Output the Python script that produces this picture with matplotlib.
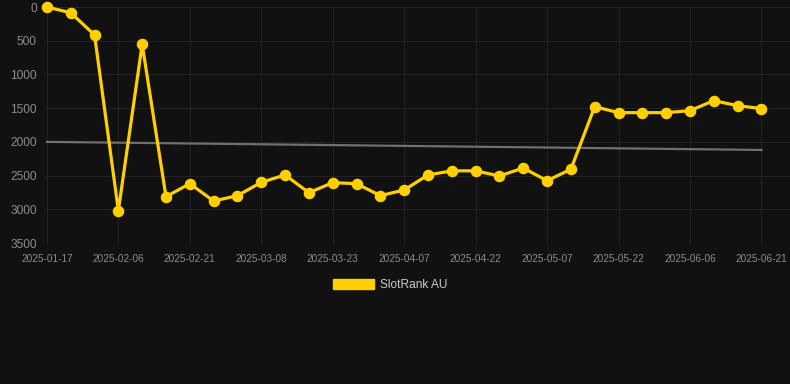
import numpy as np
import matplotlib
matplotlib.use("Agg")
import matplotlib.pyplot as plt
from matplotlib.patches import Patch

plt.rcParams['font.family'] = ['Liberation Sans', 'DejaVu Sans']

# rank values, one per point (category x axis)
ranks = [1, 85, 415, 3020, 553, 2813, 2620, 2877, 2798, 2600, 2491, 2754, 2605, 2620,
         2798, 2714, 2491, 2430, 2430, 2506, 2388, 2576, 2407, 1478, 1567, 1567, 1567,
         1537, 1389, 1463, 1507]
trend_ends = [2000, 2120]
# a label under every third point
tick_labels = ["2025-01-17", "2025-02-06", "2025-02-21", "2025-03-08", "2025-03-23",
               "2025-04-07", "2025-04-22", "2025-05-07", "2025-05-22", "2025-06-06",
               "2025-06-21"]
y_ticks = [0, 500, 1000, 1500, 2000, 2500, 3000, 3500]
series_name = "SlotRank AU"

xs = np.arange(len(ranks))
tick_pos = xs[::3]

bg = "#111111"
yellow = "#FFD000"

fig = plt.figure(figsize=(7.9, 3.84), dpi=100, facecolor=bg)
ax = fig.add_axes([45 / 790, 1 - 243 / 384, 745 / 790, 236 / 384], facecolor=bg)

ax.plot([xs[0], xs[-1]], trend_ends, color="#707070", lw=1.6, zorder=2)
ax.plot(xs, ranks, color=yellow, lw=2.3, marker="o", ms=7.3, zorder=3, clip_on=False)

ax.set_ylim(3500, 0)
ax.set_xlim(-0.08, 31.2)
ax.set_yticks(y_ticks)
ax.set_yticklabels([str(v) for v in y_ticks])
ax.set_xticks(tick_pos)
ax.set_xticklabels(tick_labels)

ax.grid(True, color="#222222", lw=0.8)
ax.set_axisbelow(True)
for s in ax.spines.values():
    s.set_visible(False)
ax.tick_params(axis="y", colors="#8c8c8c", labelsize=8.6, length=0, pad=6)
ax.tick_params(axis="x", colors="#8c8c8c", labelsize=7.2, length=0, pad=8)

handle = Patch(facecolor=yellow, edgecolor=yellow)
fig.legend([handle], [series_name], loc="center", bbox_to_anchor=(390 / 790, 1 - 285 / 384),
           frameon=False, fontsize=8.6, handlelength=3.4, handleheight=0.9,
           handletextpad=0.5, labelcolor="#cccccc")

fig.savefig("out.png", dpi=100, facecolor=bg)
